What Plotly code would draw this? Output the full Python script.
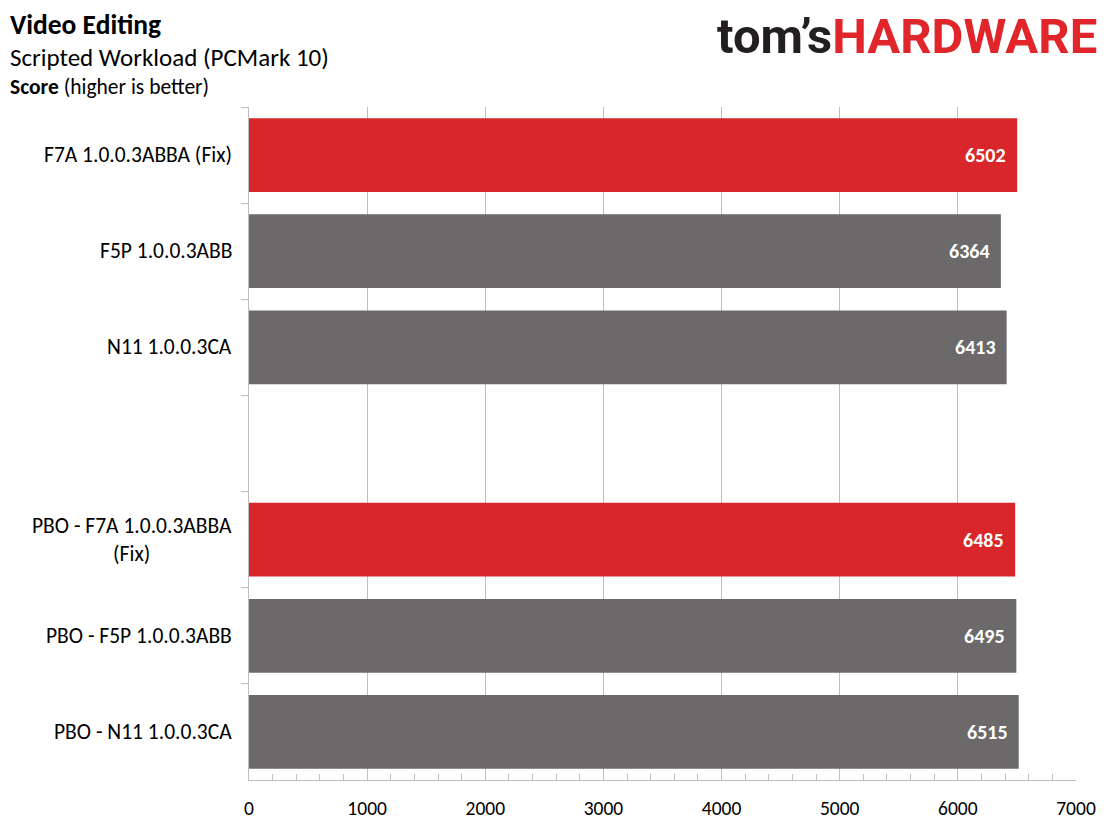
import plotly.graph_objects as go

# ---- data ----
categories = [
    "F7A 1.0.0.3ABBA (Fix)",
    "F5P 1.0.0.3ABB",
    "N11 1.0.0.3CA",
    " ",
    "PBO - F7A 1.0.0.3ABBA<br>(Fix)",
    "PBO - F5P 1.0.0.3ABB",
    "PBO - N11 1.0.0.3CA",
]
scores = [6502, 6364, 6413, None, 6485, 6495, 6515]
highlight = [True, False, False, False, True, False, False]

x_ticks = [0, 1000, 2000, 3000, 4000, 5000, 6000, 7000]

title = "Video Editing"
subtitle = "Scripted Workload (PCMark 10)"
unit_line = "<b>Score</b> (higher is better)"

RED = "#d9262a"
GREY = "#6b6969"
AXIS = "#bfbfbf"
FONT = "Carlito, Calibri, Lato, sans-serif"

# the page body has an 8px margin, so the figure is shrunk and shifted by that
OFF = 8
W, H = 1112 - OFF, 834 - OFF
L, T = 249 - OFF, 107 - OFF
PW, PH = 827, 673
R, B = W - L - PW, H - T - PH


def px_x(px):
    return (px - OFF - L) / PW


def px_y(py):
    return (T + PH - (py - OFF)) / PH


grey_y = [c for c, h in zip(categories, highlight) if not h]
grey_x = [v for v, h in zip(scores, highlight) if not h]
red_y = [c for c, h in zip(categories, highlight) if h]
red_x = [v for v, h in zip(scores, highlight) if h]

fig = go.Figure()
fig.add_trace(go.Bar(x=grey_x, y=grey_y, orientation="h", width=0.767,
                     marker=dict(color=GREY, line=dict(width=0)),
                     xaxis="x", yaxis="y", hoverinfo="x+y"))
# red bars sit on an overlay axis so the gridlines stay underneath them
fig.add_trace(go.Bar(x=red_x, y=red_y, orientation="h", width=0.767,
                     marker=dict(color=RED, line=dict(width=0)),
                     xaxis="x2", yaxis="y", hoverinfo="x+y"))

annotations = []
for c, v in zip(categories, scores):
    if c.strip():
        annotations.append(dict(x=0, y=c, xref="x", yref="y", text=c, showarrow=False,
                                xanchor="right", yanchor="middle", xshift=-15, align="center",
                                font=dict(family=FONT, size=21.5, color="#000000")))
    if v is not None:
        annotations.append(dict(x=v, y=c, xref="x", yref="y", text=f"<b>{v}</b>",
                                showarrow=False, xanchor="right", yanchor="middle", xshift=-9,
                                font=dict(family=FONT, size=20, color="#ffffff")))

annotations += [
    dict(x=px_x(8), y=px_y(25), xref="paper", yref="paper", text=f"<b>{title}</b>",
         showarrow=False, xanchor="left", yanchor="middle",
         font=dict(family=FONT, size=27.5, color="#000000")),
    dict(x=px_x(8), y=px_y(57), xref="paper", yref="paper", text=subtitle,
         showarrow=False, xanchor="left", yanchor="middle",
         font=dict(family=FONT, size=25, color="#000000")),
    dict(x=px_x(8), y=px_y(87), xref="paper", yref="paper", text=unit_line,
         showarrow=False, xanchor="left", yanchor="middle",
         font=dict(family=FONT, size=21.5, color="#000000")),
    dict(x=px_x(1099), y=px_y(37), xref="paper", yref="paper",
         text="<b><span style='color:#231f20'>tom’s</span>"
              "<span style='color:#e0262b'>HARDWARE</span></b>",
         showarrow=False, xanchor="right", yanchor="middle",
         font=dict(family="Roboto, Lato, sans-serif", size=49)),
]

fig.update_layout(
    width=W, height=H,
    margin=dict(l=L, r=R, t=T, b=B, pad=0),
    paper_bgcolor="white", plot_bgcolor="white",
    showlegend=False,
    barmode="overlay",
    font=dict(family=FONT, size=19, color="#000000"),
    xaxis=dict(range=[0, 7000], tickvals=x_ticks, showgrid=True,
               gridcolor="rgba(0,0,0,0.25)", gridwidth=1, zeroline=False,
               showline=True, linecolor=AXIS, linewidth=1.3,
               ticks="inside", ticklen=10, tickcolor="rgba(0,0,0,0)",
               ticklabelstandoff=10,
               minor=dict(dtick=200, ticks="inside", ticklen=6, tickcolor=AXIS,
                          showgrid=False),
               tickfont=dict(family=FONT, size=19.5, color="#000000"),
               layer="above traces", fixedrange=True),
    xaxis2=dict(range=[0, 7000], overlaying="x", visible=False, showgrid=False,
                fixedrange=True),
    yaxis=dict(type="category", categoryorder="array", categoryarray=categories,
               range=[6.5, -0.5], showgrid=False, zeroline=False,
               showline=True, linecolor=AXIS, linewidth=1.3,
               ticks="outside", tickson="boundaries", ticklen=7, tickcolor=AXIS,
               showticklabels=False, fixedrange=True),
    annotations=annotations,
)

fig.write_html("out.html")
